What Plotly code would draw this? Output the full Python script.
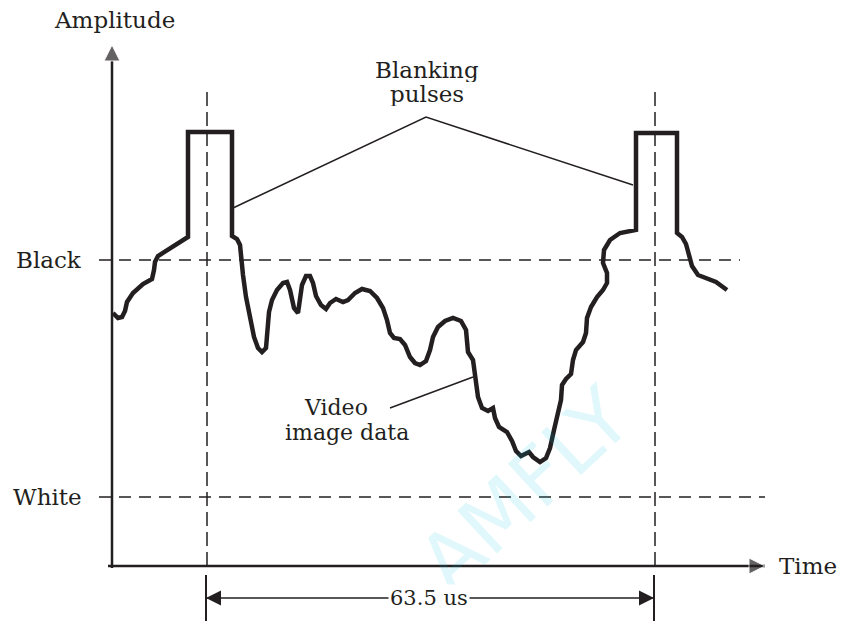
import plotly.graph_objects as go

# ── DATA (time in horizontal units, amplitude above the page bottom) ──
time = [113, 118, 122, 125, 127, 133, 143, 152, 154, 155, 158, 170, 188, 188, 232, 232,
        237, 240, 241, 243, 246, 250, 254, 258, 262, 266, 268, 269, 272, 277, 283, 287,
        290, 292, 294, 298, 300, 302, 306, 310, 313, 316, 321, 326, 330, 336, 343, 348,
        355, 362, 370, 377, 383, 387, 390, 394, 400, 405, 410, 415, 420, 426, 430, 433,
        438, 445, 453, 461, 466, 467, 468, 473, 475, 478, 482, 488, 493, 495, 499, 507,
        512, 516, 521, 526, 529, 533, 540, 546, 550, 554, 558, 561, 562, 566, 571, 573,
        576, 583, 586, 587, 591, 597, 603, 607, 607, 603, 604, 610, 620, 636, 636, 677,
        677, 682, 686, 689, 692, 698, 706, 716, 727]
amplitude = [308, 303, 304, 310, 319, 328, 337, 342, 351, 359, 365, 373, 384, 489, 489, 385,
             382, 376, 363, 346, 324, 301, 284, 273, 269, 273, 291, 309, 321, 331, 338, 339,
             331, 321, 313, 308, 319, 336, 345, 345, 338, 325, 316, 312, 318, 322, 319, 321,
             328, 332, 330, 323, 313, 301, 288, 283, 282, 276, 264, 258, 256, 260, 271, 284,
             294, 300, 303, 300, 291, 276, 269, 261, 246, 224, 213, 210, 213, 203, 194, 189,
             180, 170, 165, 168, 169, 164, 159, 163, 173, 191, 206, 221, 236, 242, 247, 261,
             271, 279, 288, 303, 314, 324, 331, 338, 348, 358, 371, 381, 388, 391, 488, 488,
             388, 384, 377, 365, 355, 346, 343, 339, 331]

level_names = ["Black", "White"]
level_values = [361, 124]
pulse_times = [207, 655]          # starts of two consecutive lines
line_period = "63.5 us"

# ── LAYOUT CONSTANTS ──
INK = "#231f20"
FONT = "DejaVu Serif"
W, H = 841, 621
AX_X, AX_Y = 112, 55              # axis origin
AX_X_END, AX_Y_END = 765, 576     # arrow tips
DIM_Y = 23                        # dimension line height

fig = go.Figure()

# watermark (only partly on the page in the original)
fig.add_annotation(x=525, y=132, text="AMFLY", showarrow=False, textangle=-43,
                   font=dict(family="DejaVu Sans", size=80, color="rgba(0,200,225,0.12)"))

# reference levels
level_ends = [740, 765]
for val, x_end in zip(level_values, level_ends):
    fig.add_trace(go.Scatter(x=[99, x_end], y=[val, val], mode="lines",
                             line=dict(color=INK, width=1.5, dash="12px,8px")))

# pulse markers (dashed verticals + solid dimension ticks)
for t in pulse_times:
    fig.add_trace(go.Scatter(x=[t, t], y=[529, 50], mode="lines",
                             line=dict(color=INK, width=1.5, dash="14px,6px")))
    fig.add_trace(go.Scatter(x=[t - 1, t - 1], y=[46, 0], mode="lines",
                             line=dict(color=INK, width=2)))

# axes with arrow heads
fig.add_trace(go.Scatter(x=[AX_X, AX_X], y=[AX_Y - 2, AX_Y_END], mode="lines+markers",
                         line=dict(color=INK, width=2.5),
                         marker=dict(symbol=["circle", "arrow-up"], size=[0, 16], color=INK)))
fig.add_trace(go.Scatter(x=[AX_X - 4, AX_X_END], y=[AX_Y, AX_Y], mode="lines+markers",
                         line=dict(color=INK, width=2.5),
                         marker=dict(symbol=["circle", "arrow-right"], size=[0, 16], color=INK)))

# waveform
fig.add_trace(go.Scatter(x=time, y=amplitude, mode="lines",
                         line=dict(color=INK, width=4.5)))

# leader lines
fig.add_trace(go.Scatter(x=[233, 426, 633], y=[413, 504, 436], mode="lines",
                         line=dict(color=INK, width=1.5)))
fig.add_trace(go.Scatter(x=[390, 473], y=[213, 244], mode="lines",
                         line=dict(color=INK, width=1.5)))

# 63.5 us dimension arrow
fig.add_trace(go.Scatter(x=[pulse_times[0] - 1, pulse_times[1] - 1], y=[DIM_Y, DIM_Y],
                         mode="lines+markers", line=dict(color=INK, width=1.5),
                         marker=dict(symbol=["arrow-left", "arrow-right"], size=15, color=INK)))
fig.add_annotation(x=sum(pulse_times) / 2 - 2, y=DIM_Y, text=line_period, showarrow=False,
                   bgcolor="white", borderpad=1, font=dict(size=21))

# labels
fig.add_annotation(x=114, y=601, text="Amplitude", showarrow=False)
for name, val in zip(level_names, level_values):
    fig.add_annotation(x=84, y=val, text=name, showarrow=False, xanchor="right")
fig.add_annotation(x=777, y=AX_Y, text="Time", showarrow=False, xanchor="left")
fig.add_annotation(x=427, y=551, text="Blanking", showarrow=False, height=24, borderpad=0)
fig.add_annotation(x=427, y=527, text="pulses", showarrow=False, height=24, borderpad=0)
fig.add_annotation(x=336, y=214, text="Video", showarrow=False, font=dict(size=22))
fig.add_annotation(x=347, y=189, text="image data", showarrow=False, font=dict(size=22))

fig.update_layout(
    width=W, height=H,
    margin=dict(l=0, r=0, t=0, b=0),
    paper_bgcolor="white", plot_bgcolor="white",
    showlegend=False,
    font=dict(family=FONT, size=23, color=INK),
    xaxis=dict(range=[0, W], visible=False, fixedrange=True),
    yaxis=dict(range=[0, H], visible=False, fixedrange=True),
)

fig.write_html("out.html", config={"displayModeBar": False},
               post_script="document.body.style.margin='0';")
